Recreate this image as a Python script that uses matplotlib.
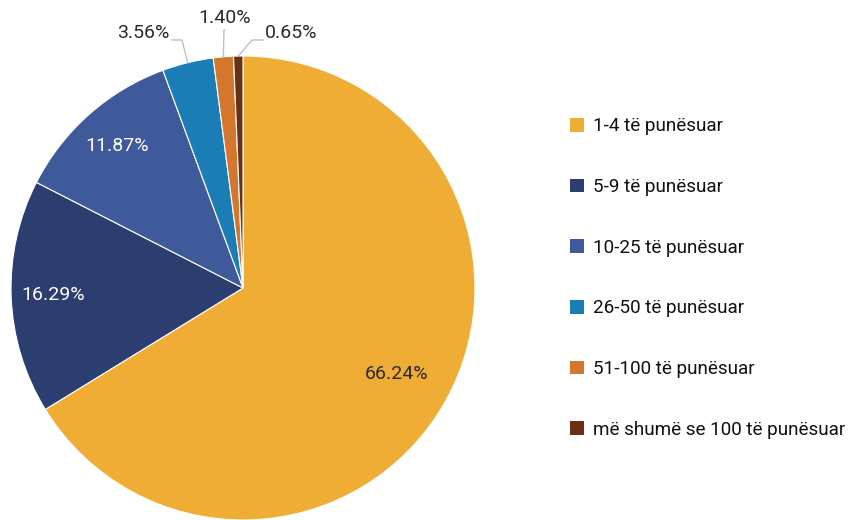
import numpy as np
import matplotlib.pyplot as plt
from matplotlib.patches import Patch

plt.rcParams['font.family'] = ['Roboto', 'DejaVu Sans']

labels = ["1-4 të punësuar", "5-9 të punësuar", "10-25 të punësuar",
          "26-50 të punësuar", "51-100 të punësuar", "më shumë se 100 të punësuar"]
values = [66.24, 16.29, 11.87, 3.56, 1.40, 0.65]
colors = ["#F0AD36", "#2C3E70", "#3F5A9A", "#1B7DB5", "#D4762E", "#6B2F14"]

fig = plt.figure(figsize=(8.62, 5.2), dpi=100)
ax = fig.add_axes([11 / 862, 0, 464 / 862, 464 / 520])

wedges, _ = ax.pie(values, colors=colors, startangle=90, counterclock=False,
                   wedgeprops=dict(edgecolor="white", linewidth=0.8))
ax.set_xlim(-1, 1)
ax.set_ylim(-1, 1)
ax.set_aspect("equal")
ax.axis("off")

def mid_angle(w):
    return np.deg2rad((w.theta1 + w.theta2) / 2)

pct_size = 14

# inside labels
inside = {0: (0.76, "#2a2a2a"), 1: (0.82, "white"), 2: (0.82, "white")}
for i, (r, c) in inside.items():
    a = mid_angle(wedges[i])
    ax.text(r * np.cos(a), r * np.sin(a), f"{values[i]:.2f}%", ha="center", va="center",
            fontsize=pct_size, color=c)

# outside labels with leader lines
outside = {
    3: ((-0.263, 1.069), (-0.306, 1.069), (-0.315, 1.10), "right"),
    4: ((-0.082, 1.112), (-0.078, 1.112), (-0.078, 1.164), "center"),
    5: ((0.039, 1.069), (0.086, 1.069), (0.095, 1.10), "left"),
}
for i, (elbow, end, tpos, ha) in outside.items():
    a = mid_angle(wedges[i])
    xs = [np.cos(a), elbow[0], end[0]]
    ys = [np.sin(a), elbow[1], end[1]]
    ax.plot(xs, ys, color="#BFBFBF", lw=1, clip_on=False)
    ax.text(tpos[0], tpos[1], f"{values[i]:.2f}%", ha=ha, va="center",
            fontsize=pct_size, color="#2a2a2a", clip_on=False)

handles = [Patch(facecolor=c, edgecolor="none") for c in colors]
fig.legend(handles, labels, loc="upper left", bbox_to_anchor=(0.641, 0.807),
           frameon=False, fontsize=13.6, labelspacing=2.26,
           handlelength=0.75, handleheight=0.75, handletextpad=0.5,
           labelcolor="#111111")

fig.savefig("out.png", dpi=100)
